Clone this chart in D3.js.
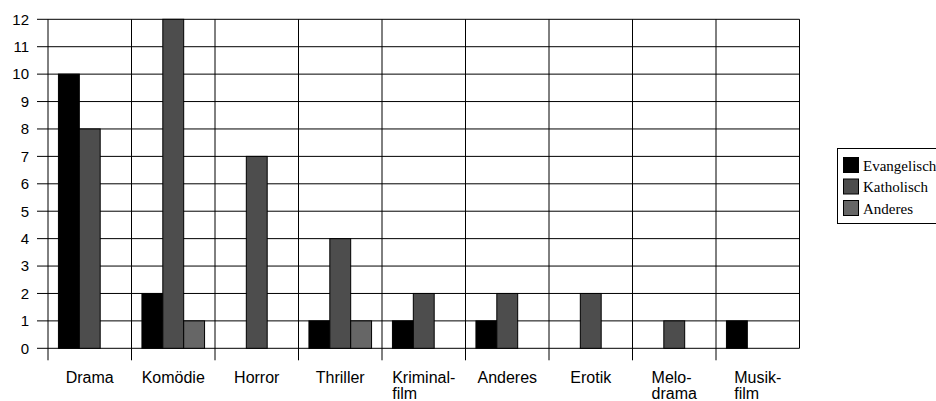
<!DOCTYPE html>
<html>
<head>
<meta charset="utf-8">
<script src="https://cdn.jsdelivr.net/npm/d3@7"></script>
<style>
  body { margin: 0; background: #fff; }
  svg { display: block; }
</style>
</head>
<body>
<script>
// chart data
var categories = [
  ["Drama"], ["Komödie"], ["Horror"], ["Thriller"], ["Kriminal-", "film"],
  ["Anderes"], ["Erotik"], ["Melo-", "drama"], ["Musik-", "film"]
];
var seriesNames = ["Evangelisch", "Katholisch", "Anderes"];
var evangelisch = [10, 2, 0, 1, 1, 1, 0, 0, 1];
var katholisch  = [8, 12, 7, 4, 2, 2, 2, 1, 0];
var anderes     = [0, 1, 0, 1, 0, 0, 0, 0, 0];
var yTicks = [0, 1, 2, 3, 4, 5, 6, 7, 8, 9, 10, 11, 12];

var seriesValues = [evangelisch, katholisch, anderes];
var colors = ["#000000", "#4d4d4d", "#666666"];

var width = 936, height = 401;
var plotLeft = 48, plotRight = 799.5, plotTop = 19.3, plotBottom = 348.3;

var svg = d3.select("body").append("svg")
  .attr("width", width)
  .attr("height", height);

var catKeys = categories.map(function(c, i) { return i; });

var xScale = d3.scaleBand()
  .domain(catKeys)
  .range([plotLeft, plotRight])
  .paddingInner(0)
  .paddingOuter(0);

var xInner = d3.scaleBand()
  .domain(seriesNames)
  .range([0, xScale.bandwidth()])
  .paddingInner(0)
  .paddingOuter(0.5);

var yScale = d3.scaleLinear()
  .domain([0, 12])
  .range([plotBottom, plotTop]);

// horizontal grid
svg.append("g").selectAll("line")
  .data(yTicks)
  .enter().append("line")
  .attr("x1", plotLeft - 11)
  .attr("x2", plotRight)
  .attr("y1", function(d) { return yScale(d) })
  .attr("y2", function(d) { return yScale(d) })
  .attr("stroke", "#000")
  .attr("stroke-width", 1);

// vertical grid / category separators
var bounds = catKeys.map(function(k) { return xScale(k) }).concat([plotRight]);
svg.append("g").selectAll("line")
  .data(bounds)
  .enter().append("line")
  .attr("x1", function(d) { return d })
  .attr("x2", function(d) { return d })
  .attr("y1", plotTop)
  .attr("y2", function(d, i) { return i == bounds.length - 1 ? plotBottom : plotBottom + 12 })
  .attr("stroke", "#000")
  .attr("stroke-width", 1);

// y axis labels
var yAxis = d3.axisLeft(yScale)
  .tickValues(yTicks)
  .tickSize(11)
  .tickPadding(8)
  .tickFormat(d3.format("d"));
var yG = svg.append("g")
  .attr("transform", "translate(" + plotLeft + ",0)")
  .call(yAxis);
yG.select(".domain").remove();
yG.selectAll(".tick line").remove();
yG.selectAll("text")
  .attr("font-family", "Liberation Sans, Arial, sans-serif")
  .attr("font-size", 15)
  .attr("fill", "#000");

// bars
var groups = svg.append("g").selectAll("g")
  .data(catKeys)
  .enter().append("g")
  .attr("transform", function(k) { return "translate(" + xScale(k) + ",0)" });

groups.selectAll("rect")
  .data(function(k) {
    return seriesNames.map(function(s, j) { return {s: s, j: j, v: seriesValues[j][k]} });
  })
  .enter().append("rect")
  .attr("x", function(d) { return xInner(d.s) })
  .attr("width", xInner.bandwidth())
  .attr("y", function(d) { return yScale(d.v) })
  .attr("height", function(d) { return yScale(0) - yScale(d.v) })
  .attr("fill", function(d) { return colors[d.j] })
  .attr("stroke", "#000")
  .attr("stroke-width", function(d) { return d.v == 0 ? 2 : 1 });

// x labels
var labels = svg.append("g").selectAll("text")
  .data(catKeys)
  .enter().append("text")
  .attr("font-family", "Liberation Sans, Arial, sans-serif")
  .attr("font-size", 16)
  .attr("fill", "#000")
  .attr("y", 383);

labels.each(function(k) {
  var t = d3.select(this);
  var lines = categories[k];
  lines.forEach(function(line, i) {
    t.append("tspan").attr("dy", i == 0 ? 0 : 15.5).text(line);
  });
  // center block, lines left aligned
  var w = d3.max(t.selectAll("tspan").nodes(), function(n) { return n.getComputedTextLength() });
  var x0 = xScale(k) + xScale.bandwidth() / 2 - w / 2;
  t.selectAll("tspan").attr("x", x0);
});

// legend
var legend = svg.append("g");
legend.append("rect")
  .attr("x", 837.5)
  .attr("y", 148.5)
  .attr("width", 110)
  .attr("height", 75)
  .attr("fill", "#fff")
  .attr("stroke", "#000")
  .attr("stroke-width", 1);

var items = legend.selectAll("g.item")
  .data(seriesNames)
  .enter().append("g")
  .attr("class", "item")
  .attr("transform", function(d, i) { return "translate(843," + (157 + i * 21.5) + ")" });

items.append("rect")
  .attr("x", 0.5)
  .attr("y", 0.5)
  .attr("width", 15)
  .attr("height", 15)
  .attr("fill", function(d, i) { return colors[i] })
  .attr("stroke", "#000")
  .attr("stroke-width", 1);

items.append("text")
  .attr("x", 20)
  .attr("y", 13.5)
  .attr("font-family", "Liberation Serif, Times New Roman, serif")
  .attr("font-size", 15)
  .attr("fill", "#000")
  .text(function(d) { return d });
</script>
</body>
</html>
